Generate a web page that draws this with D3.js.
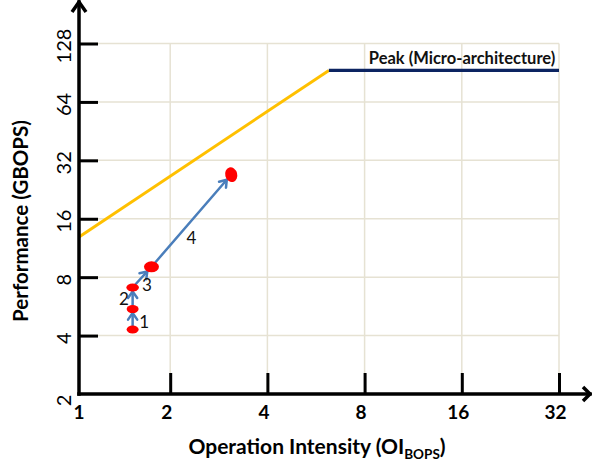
<!DOCTYPE html>
<html><head><meta charset="utf-8">
<script src="https://cdn.jsdelivr.net/npm/d3@7"></script>
<style>body{margin:0;background:#fff}svg{display:block}</style>
</head><body>
<svg id="c" width="592" height="468"></svg>
<script>
// ---- data ----
const xTicks = [1, 2, 4, 8, 16, 32];
const yTicks = [2, 4, 8, 16, 32, 64, 128];
const pointOI   = [1.53, 1.53, 1.53, 1.75, 3.09];
const pointPerf = [4.3, 5.48, 7.08, 9.04, 27.0];
const stepLabels = ["1", "2", "3", "4"];
const roofOI   = [1.044, 6.2];
const roofPerf = [12.9, 93];
const peakOI   = [6.2, 32];
const peakPerf = [93, 93];
const peakLabel = "Peak (Micro-architecture)";
const xTitle = "Operation Intensity (OI";
const xTitleSub = "BOPS";
const yTitle = "Performance (GBOPS)";

// ---- style ----
const FONT = "Lato, 'Open Sans', sans-serif";
const markShape = [[6,4,0],[6,4,0],[6.3,4,0],[7.5,5.5,0],[6,7.5,-15]];
const labelOffset = [[11.5,2.7],[-8.7,0],[5,7],[0,17]];

const svg = d3.select("#c");
const x = d3.scaleLog().base(2).domain([1, 32]).range([73, 559]);
const y = d3.scaleLog().base(2).domain([2, 128]).range([394, 43.5]);
const axisX = 79;          // y-axis line position
const axisY = y(2);        // x-axis line position

// grid
const grid = svg.append("g").attr("stroke", "#e6e2d3").attr("stroke-width", 1.5);
yTicks.slice(1).forEach(v => grid.append("line")
  .attr("x1", axisX).attr("x2", x(32)).attr("y1", y(v)).attr("y2", y(v)));
xTicks.slice(1).forEach(v => grid.append("line")
  .attr("x1", x(v)).attr("x2", x(v)).attr("y1", y(128)).attr("y2", axisY));

// roofline
const line = d3.line().x(d => x(d[0])).y(d => y(d[1]));
svg.append("path").attr("d", line(roofOI.map((v,i)=>[v, roofPerf[i]])))
  .attr("fill","none").attr("stroke","#ffc000").attr("stroke-width",3);
svg.append("path").attr("d", line(peakOI.map((v,i)=>[v, peakPerf[i]])))
  .attr("fill","none").attr("stroke","#0c2461").attr("stroke-width",3.2);
svg.append("text").text(peakLabel)
  .attr("x", x(peakOI[0]) + 40).attr("y", y(peakPerf[0]) - 6)
  .attr("font-family", FONT).attr("font-weight","bold").attr("font-size", 16.5).attr("fill","#111");

// points & arrows
const pts = pointOI.map((v,i)=>({cx:x(v), cy:y(pointPerf[i]), rx:markShape[i][0], ry:markShape[i][1], rot:markShape[i][2]}));
function edge(p, ux, uy){ return 1/Math.sqrt((ux/p.rx)**2 + (uy/p.ry)**2); }
const arrowG = svg.append("g").attr("stroke","#4a7ebb").attr("stroke-width",2.5).attr("fill","none")
  .attr("stroke-linecap","round").attr("stroke-linejoin","round");
for (let i = 0; i < pts.length - 1; i++) {
  const a = pts[i], b = pts[i+1];
  const dx = b.cx - a.cx, dy = b.cy - a.cy, L = Math.hypot(dx, dy);
  const ux = dx/L, uy = dy/L;
  const ta = edge(a, ux, uy), tb = edge(b, ux, uy);
  const sx = a.cx + ux*ta, sy = a.cy + uy*ta, ex = b.cx - ux*tb, ey = b.cy - uy*tb;
  arrowG.append("line").attr("x1",sx).attr("y1",sy).attr("x2",ex).attr("y2",ey);
  const th = 35*Math.PI/180, al = 8;
  const arm = s => [ex - al*(ux*Math.cos(th) - s*uy*Math.sin(th)), ey - al*(uy*Math.cos(th) + s*ux*Math.sin(th))];
  const a1 = arm(1), a2 = arm(-1);
  arrowG.append("path").attr("d", `M${a1[0]},${a1[1]}L${ex},${ey}L${a2[0]},${a2[1]}`);
  svg.append("text").text(stepLabels[i])
    .attr("x", (a.cx+b.cx)/2 + labelOffset[i][0]).attr("y", (a.cy+b.cy)/2 + labelOffset[i][1])
    .attr("text-anchor","middle").attr("dominant-baseline","central")
    .attr("font-family", FONT).attr("font-size", 17).attr("fill","#111");
}
svg.append("g").selectAll("ellipse").data(pts).join("ellipse")
  .attr("transform", d => `translate(${d.cx},${d.cy}) rotate(${d.rot})`)
  .attr("rx", d => d.rx).attr("ry", d => d.ry).attr("fill", "#ff0000");

// x axis
const gx = svg.append("g").attr("transform", `translate(0,${axisY})`)
  .call(d3.axisBottom(x).tickValues(xTicks).tickFormat(d3.format("d")).tickSize(-21).tickPadding(12));
gx.select(".domain").remove();
gx.selectAll(".tick line").attr("stroke","#000").attr("stroke-width",3)
  .filter(d => d === 1).remove();
gx.selectAll(".tick").filter(d => d === 1).attr("transform", `translate(${axisX},0)`);
gx.selectAll(".tick text").attr("font-family", FONT).attr("font-weight","bold")
  .attr("font-size", 19).attr("fill","#000")
  .attr("dx", d => d === 1 ? 0 : -4);

// y axis
const gy = svg.append("g").attr("transform", `translate(${axisX},0)`)
  .call(d3.axisRight(y).tickValues(yTicks).tickFormat(d3.format("d")).tickSize(19));
gy.select(".domain").remove();
gy.selectAll(".tick line").attr("stroke","#000").attr("stroke-width",3)
  .filter(d => d === 2).remove();
gy.selectAll(".tick text")
  .attr("x", 0).attr("y", 0).attr("dy", 0).attr("dx", 0)
  .attr("text-anchor","middle")
  .attr("transform", d => `translate(-8,${d === 2 ? 6 : 2}) rotate(-90)`)
  .attr("font-family", FONT).attr("font-size", 20).attr("fill","#000");

// axis lines with arrowheads
const ax = svg.append("g").attr("stroke","#000").attr("stroke-width",3.5).attr("fill","none")
  .attr("stroke-linecap","square");
ax.append("line").attr("x1",axisX).attr("y1",axisY).attr("x2",axisX).attr("y2",2);
ax.append("path").attr("d",`M${axisX-7},12L${axisX},2L${axisX+7},12`).attr("stroke-linecap","butt");
ax.append("line").attr("x1",axisX).attr("y1",axisY).attr("x2",590).attr("y2",axisY);
ax.append("path").attr("d",`M583,${axisY-7}L590,${axisY}L583,${axisY+7}`).attr("stroke-linecap","butt");

// titles
const xt = svg.append("text").attr("x", 317).attr("y", 454).attr("text-anchor","middle")
  .attr("font-family", FONT).attr("font-weight","bold").attr("font-size", 21).attr("fill","#000");
xt.append("tspan").text(xTitle);
xt.append("tspan").text(xTitleSub).attr("font-size", 13.5).attr("dy", 5);
xt.append("tspan").text(")").attr("dy", -5);
svg.append("text").text(yTitle)
  .attr("transform", "translate(28,221) rotate(-90)").attr("text-anchor","middle")
  .attr("font-family", FONT).attr("font-weight","bold").attr("font-size", 20.5).attr("fill","#000");
</script>
</body></html>
